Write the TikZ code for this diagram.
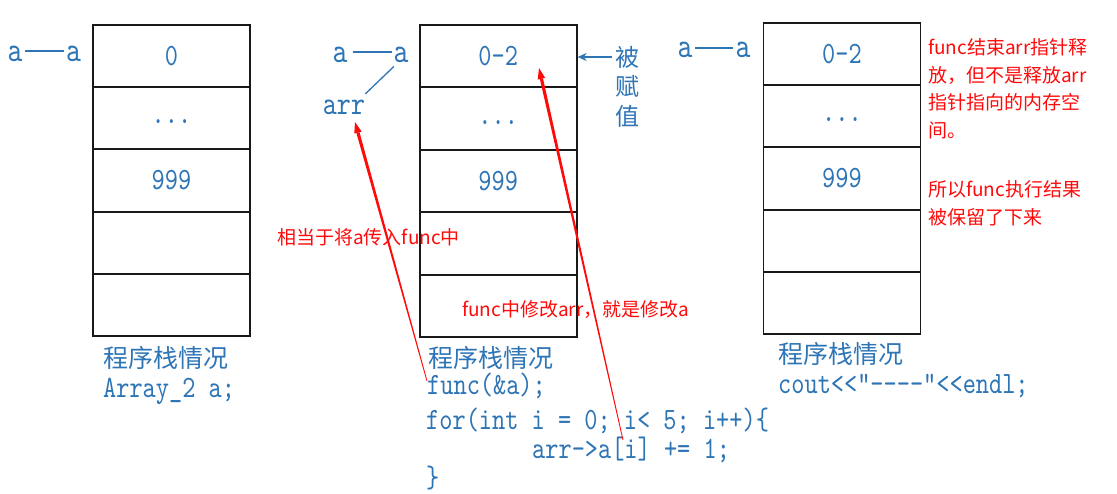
\documentclass[tikz,border=0pt]{standalone}
\usepackage{fontspec}
\usetikzlibrary{calc,arrows.meta}
\newfontfamily\cjk{Noto Sans CJK SC}
\newfontfamily\codefont[Extension=.otf,FakeStretch=0.81]{lmmono10-regular}
\definecolor{tblue}{RGB}{46,117,182}
\definecolor{tred}{RGB}{255,10,10}
\definecolor{tline}{RGB}{25,25,25}
\tikzset{
  cell/.style={draw=tline, line width=1.9pt, minimum width=157pt, minimum height=62.3pt,
    inner sep=0pt, text=tblue, font=\fontsize{31}{36}\codefont, text height=19pt, text depth=0pt},
  code/.style={text=tblue, font=\fontsize{31}{36}\codefont, inner sep=0pt, anchor=base west},
  captxt/.style={text=tblue, font=\fontsize{25}{30}\cjk, inner sep=0pt, anchor=base west},
  lbl/.style={text=tblue, font=\fontsize{35}{40}\codefont, inner sep=0pt},
  note/.style={text=tred, font=\fontsize{19}{27.5}\cjk, inner sep=0pt, align=left},
  link/.style={tblue, line width=1.3pt},
}
\newcommand\taperarrow[2]{%
  \coordinate (tbase) at ($(#2)!11pt!(#1)$);
  \fill[tred] ($(#1)!0.4pt!90:(#2)$) -- ($(tbase)!1.6pt!-90:(#1)$) -- ($(tbase)!1.6pt!90:(#1)$) -- ($(#1)!0.4pt!-90:(#2)$) -- cycle;
  \fill[tred] (#2) -- ($(tbase)!3.8pt!-90:(#1)$) -- ($(tbase)!3.8pt!90:(#1)$) -- cycle;
}
\begin{document}
\begin{tikzpicture}[x=1pt,y=-1pt]
\useasboundingbox (0,0) rectangle (1117,494);
\fill[white] (0,0) rectangle (1117,494);

% left stack
\node[cell] (L1) at (171.5,56.1) {0};
\node[cell] (L2) at (171.5,118.3) {\raisebox{4pt}{...}};
\node[cell] (L3) at (171.5,180.5) {999};
\node[cell] (L4) at (171.5,242.7) {};
\node[cell] (L5) at (171.5,304.9) {};
% middle stack
\node[cell] (M1) at (498.2,56.2) {0-2};
\node[cell] (M2) at (498.2,118.6) {\raisebox{4pt}{...}};
\node[cell] (M3) at (498.2,181) {999};
\node[cell] (M4) at (498.2,243.4) {};
\node[cell] (M5) at (498.2,305.8) {};
% right stack
\node[cell] (R1) at (842,54.1) {0-2};
\node[cell] (R2) at (842,116.3) {\raisebox{4pt}{...}};
\node[cell] (R3) at (842,178.5) {999};
\node[cell] (R4) at (842,240.7) {};
\node[cell] (R5) at (842,302.9) {};

% a -- a labels
\node[lbl] (a1l) at (15,53.5) {a};
\node[lbl] (a1r) at (73.5,53.5) {a};
\draw[link] ($(a1l.east)+(2.5,-2.5)$) -- ($(a1r.west)+(-2,-2.5)$);
\node[lbl] (a2l) at (340,54.5) {a};
\node[lbl] (a2r) at (401,54.5) {a};
\draw[link] ($(a2l.east)+(5,-2.5)$) -- ($(a2r.west)+(-1,-2.5)$);
\node[lbl, font=\fontsize{33}{38}\codefont] (arr) at (344,107.5) {arr};
\draw[link] ($(a2r.south west)+(0.5,4)$) -- ($(arr.north east)+(0,-6)$);
\node[lbl] (a3l) at (685,49.5) {a};
\node[lbl] (a3r) at (743,49.5) {a};
\draw[link] ($(a3l.east)+(2.5,-1.5)$) -- ($(a3r.west)+(-2,-1.5)$);

% assigned marker
\node[font=\fontsize{24}{29.5}\cjk, text=tblue, align=center, inner sep=0pt, anchor=north] (bfz) at (627,46) {被\\赋\\值};
\coordinate (bzin) at (612,57);
\draw[tblue, line width=1.5pt, -{Stealth[length=9pt,width=8pt]}] (bzin) -- (M1.east |- bzin);

% captions and code
\node[captxt] (c1) at (103,367) {程序栈情况};
\node[code] (k1) at (103,397) {Array\_2 a;};
\node[captxt] (c2) at (428,367) {程序栈情况};
\node[code] (k2) at (427,395) {func(\&a);};
\node[code] (k3) at (426,429) {for(int i = 0; i< 5; i++)\{};
\node[code] (k4) at (532,458) {arr->a[i] += 1;};
\node[code] (k5) at (426,487) {\}};
\node[captxt] (c3) at (778,364) {程序栈情况};
\node[code] (k6) at (778,393) {cout<<”-{}-{}-{}-”<<endl;};

% red notes
\node[note, anchor=west] (n1) at (277,237) {相当于将a传入func中};
\node[note, anchor=west] (n2) at (462,310) {func中修改arr，就是修改a};
\node[note, anchor=north west] (n3) at (928,38.5) {func结束arr指针释\\放，但不是释放arr\\指针指向的内存空\\间。};
\node[note, anchor=north west] (n4) at (928,180.5) {所以func执行结果\\被保留了下来};

% red arrows
\coordinate (sA) at (427,381);
\coordinate (tA) at (355,122);
\coordinate (sB) at (623,440);
\coordinate (tB) at (539,68);
\taperarrow{sA}{tA}
\taperarrow{sB}{tB}
\end{tikzpicture}
\end{document}
